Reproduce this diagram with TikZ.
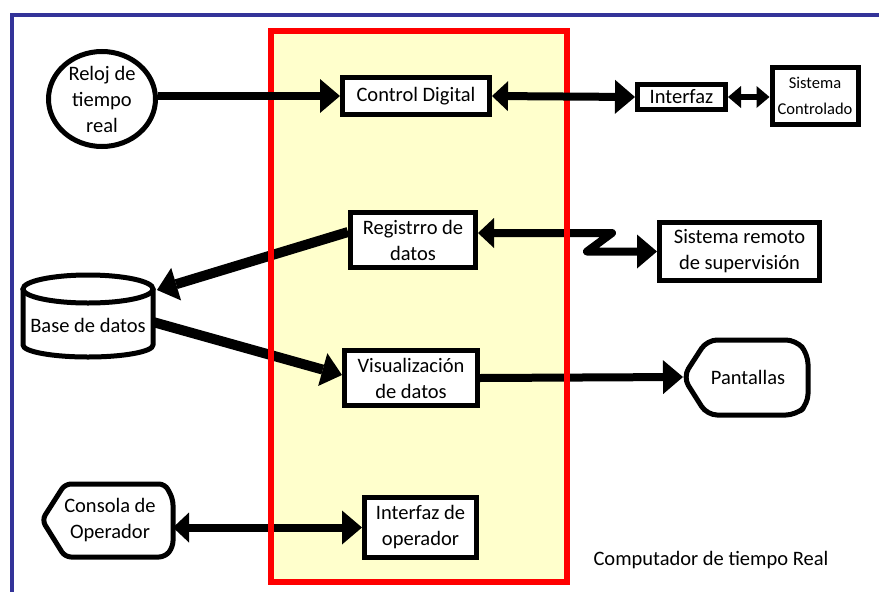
\documentclass[tikz,border=0pt]{standalone}
\usepackage{fontspec}
\setmainfont{Carlito}
\usetikzlibrary{arrows.meta,shapes.geometric,calc}

\definecolor{frameblue}{RGB}{51,51,153}
\definecolor{panelred}{RGB}{255,0,0}
\definecolor{panelfill}{RGB}{255,255,204}

\tikzset{
  lbl/.style={font=\fontsize{20.5}{26}\selectfont, align=center},
  box/.style={draw, line width=5, fill=white, lbl, inner sep=0pt, rectangle},
  conn/.style={line width=8, line join=round},
  fatconn/.style={line width=10, line join=round},
  thinconn/.style={line width=6},
  bigtip/.tip={Triangle[length=20pt,width=34pt,line width=0pt]},
  midtip/.tip={Triangle[length=16pt,width=30pt,line width=0pt]},
  smalltip/.tip={Triangle[length=13pt,width=22pt,line width=0pt]},
  outline/.style={draw, line width=5, fill=white, line join=round},
}

\begin{document}
\begin{tikzpicture}[x=1pt,y=-1pt]
\useasboundingbox (0,0) rectangle (879,592);
\fill[white] (0,0) rectangle (879,592);

% outer frame of the computer
\draw[frameblue, line width=3.5] (12,600) -- (12,15) -- (890,15);

% real-time computer panel (fill first, border drawn later)
\fill[panelfill] (271,31) rectangle (567,582);

% --- blocks inside the panel ---
\node[box, minimum width=147, minimum height=37] (ctrl) at (416,96) {Control Digital};
\node[box, minimum width=125, minimum height=55] (reg) at (413,240) {Registrro de\\datos};
\node[box, minimum width=133, minimum height=55] (visual) at (411,378) {Visualización\\de datos};
\node[box, minimum width=112, minimum height=60] (iop) at (420.5,527.5) {Interfaz de\\operador};

% --- blocks outside the panel ---
\node[box, minimum width=88, minimum height=25] (iface) at (681.5,97) {Interfaz};
\node[box, minimum width=86, minimum height=57, font=\fontsize{16.5}{26}\selectfont] (sys) at (815,96) {Sistema\\Controlado};
\node[box, minimum width=160, minimum height=58] (remoto) at (739.5,251.5) {Sistema remoto\\de supervisión};

% real-time clock
\node[draw, line width=5, fill=white, ellipse, minimum width=107, minimum height=95, inner sep=0pt, lbl] (clock) at (102,99) {Reloj de\\tiempo\\real};

% database cylinder
\draw[outline] (23,289) -- (23,345) arc[start angle=180, end angle=0, x radius=65, y radius=12] -- (153,289);
\draw[line width=5] (88,289) ellipse[x radius=65, y radius=14];
\node[lbl] (base) at (88,325) {Base de datos};
\coordinate (base-in) at (157,290);
\coordinate (base-out) at (153,322);

% display unit
\draw[outline, rounded corners=10] (683,377) -- (707,340) -- (796,340) -- (808,354) -- (808,404) -- (796,415) -- (707,415) -- cycle;
\node[lbl] (pant) at (748,377) {Pantallas};
\coordinate (pant-w) at (683,377);

% operator console
\draw[outline, rounded corners=6] (42,520) -- (65,484) -- (165,484) -- (173,499) -- (173,547) -- (165,557) -- (65,557) -- cycle;
\node[lbl] (cons) at (110,520) {Consola de\\Operador};
\coordinate (cons-e) at (173,527.5);

% --- connectors below the panel border ---
\draw[fatconn, -bigtip] ([yshift=8pt]reg.west) -- (base-in);
\draw[fatconn, -bigtip] (base-out) -- ([yshift=3pt]visual.west);
\draw[conn, midtip-bigtip] ([yshift=7pt]reg.east) -- ($([yshift=7pt]reg.east)+(134,0)$)
  -- ($(remoto.west)+(-70,0)$) -- (remoto.west);
\draw[conn, -bigtip] (visual.east) -- (pant-w);
\draw[conn, midtip-bigtip] (cons-e) -- (iop.west);

% panel border
\draw[panelred, line width=6] (271,31) rectangle (567,582);

% --- connectors above the panel border ---
\draw[conn, -bigtip] (ctrl.west -| clock.east) -- (ctrl.west);
\draw[conn, midtip-bigtip] (ctrl.east) -- (iface.west);
\draw[thinconn, smalltip-smalltip] (iface.east) -- (iface.east -| sys.west);

\node[lbl, anchor=west] (title) at (590,560) {Computador de tiempo Real};
\end{tikzpicture}
\end{document}
